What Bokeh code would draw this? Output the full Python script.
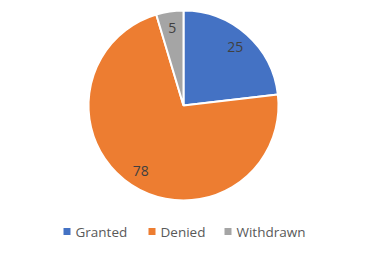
import numpy as np
from bokeh.plotting import figure
from bokeh.models import ColumnDataSource, Range1d
from bokeh.core.properties import value
from bokeh.embed import file_html
from bokeh.resources import INLINE

# Outcome counts
categories = ["Granted", "Denied", "Withdrawn"]
counts = [25, 78, 5]
colors = ["#4472C4", "#ED7D31", "#A5A5A5"]

W, H = 384, 256
cx, cy, r = 183, H - 105, 95

total = float(sum(counts))
frac = np.array(counts) / total
cum_end = np.cumsum(frac) * 2 * np.pi
cum_start = cum_end - frac * 2 * np.pi
# slices run clockwise from 12 o'clock
start = np.pi / 2 - cum_end
end = np.pi / 2 - cum_start
mid = np.pi / 2 - (cum_start + cum_end) / 2

src = ColumnDataSource(dict(
    cat=categories, val=counts, color=colors,
    start=start, end=end,
    lx=cx + 0.82 * r * np.cos(mid), ly=cy + 0.82 * r * np.sin(mid),
    txt=[str(v) for v in counts],
))

p = figure(width=W, height=H, output_backend="svg", toolbar_location=None,
           x_range=Range1d(0, W), y_range=Range1d(0, H),
           min_border=0, outline_line_color=None)
p.axis.visible = False
p.grid.visible = False
p.background_fill_color = "white"

p.wedge(x=cx, y=cy, radius=r, start_angle="start", end_angle="end",
        fill_color="color", line_color="white", line_width=2, source=src)

p.text(x="lx", y="ly", text="txt", source=src, text_align="center",
       text_baseline="middle", text_font=value("Open Sans"),
       text_font_size="14px", text_color="#404040")

# legend row
leg_x = [63, 148, 224]
leg_y = H - 231
lsrc = ColumnDataSource(dict(x=[x + 3.5 for x in leg_x], tx=[x + 12 for x in leg_x],
                             y=[leg_y] * 3, cat=categories, color=colors))
p.rect(x="x", y="y", width=7, height=7, fill_color="color", line_color=None, source=lsrc)
p.text(x="tx", y="y", text="cat", source=lsrc, text_baseline="middle",
       text_font=value("Open Sans"), text_font_size="13.5px", text_color="#595959")

open("out.html", "w").write(file_html(p, INLINE))
